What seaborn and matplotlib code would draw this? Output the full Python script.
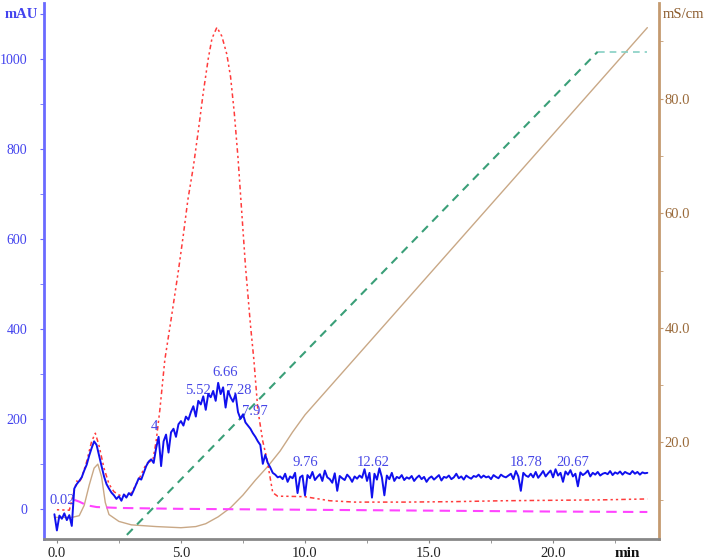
import numpy as np
import pandas as pd
import matplotlib
matplotlib.use("Agg")
import matplotlib.pyplot as plt
import seaborn as sns

# ---------------- data ----------------
uv_start, uv_step = -0.1, 0.1
uv_blue = [
    -12, -48, -15, -22, -10, -25, -14, -38, 45, 55,
    62, 70, 85, 98, 118, 135, 150, 142, 118, 95,
    72, 55, 45, 36, 30, 22, 28, 18, 32, 25,
    35, 30, 42, 55, 68, 65, 80, 95, 105, 110,
    102, 135, 160, 95, 150, 165, 125, 170, 178, 160,
    188, 195, 185, 205, 198, 215, 228, 205, 240, 232,
    250, 220, 255, 248, 262, 240, 280, 255, 270, 225,
    262, 248, 238, 255, 215, 200, 210, 192, 185, 178,
    168, 160, 150, 142, 100, 120, 102, 92, 80, 76,
    70, 72,
    66, 78, 60, 72, 68, 80, 35, 70, 74, 30,
    75, 68, 82, 64, 71, 77, 62, 85, 70, 66,
    58, 79, 40, 73, 68, 64, 76, 70, 60, 72,
    67, 74, 69, 88, 62, 80, 25, 78, 65, 90,
    70, 30, 74, 66, 80, 62, 71, 68, 75, 64,
    70, 67, 73, 62, 69, 74, 66, 71, 60, 68,
    72, 65, 70, 75, 63, 71, 69, 74, 66, 70,
    78, 68, 72, 65, 74, 70, 67, 73, 71, 76,
    69, 74, 70, 72, 66, 75, 71, 68, 76, 72,
    70, 74, 78, 66, 84, 72, 40, 80, 74, 71,
    78, 70, 82, 69, 76, 84, 72, 79, 85, 70,
    88, 74, 80, 60, 83, 76, 86, 72, 78, 50,
    81, 75, 79, 85, 72, 80, 76, 82, 74, 78,
    80, 77, 84, 75, 81, 78, 83, 76, 82, 79,
    77, 84, 78, 82, 76, 81, 79, 80,
]

red_t = [0.0, 0.5, 0.65, 0.8, 0.9, 1.0, 1.2, 1.4, 1.55, 1.7, 1.9, 2.1, 2.3, 2.6, 3.0,
         3.3, 3.6, 3.87, 4.0, 4.15, 4.35, 4.6, 4.9, 5.1, 5.28, 5.5, 5.7, 5.9, 6.1,
         6.25, 6.45, 6.65, 6.85, 7.0, 7.15, 7.3, 7.45, 7.6, 7.8, 7.94, 8.1, 8.3, 8.47,
         8.7, 8.9, 9.2, 10.0, 11.0, 12.0, 14.0, 16.0, 18.0, 20.0, 22.0, 23.8]
red_v = [-2, -3, 30, 62, 58, 70, 105, 150, 168, 140, 90, 55, 38, 28, 35,
         65, 100, 109, 150, 220, 331, 420, 530, 610, 687, 760, 840, 925, 1000,
         1045, 1070, 1050, 1010, 960, 880, 780, 660, 540, 410, 331, 220, 150, 109,
         36, 28, 28, 27, 18, 15, 15, 16, 18, 19, 20, 22]

mag_t = [0.7, 0.9, 1.2, 1.6, 2.5, 5.0, 10.0, 15.0, 20.0, 23.8]
mag_v = [20, 16, 8, 4, 2, 0, -2, -4, -6, -7]

cond_t = [-0.1, 0.6, 0.9, 1.1, 1.3, 1.5, 1.65, 1.8, 1.95, 2.1, 2.5, 3.0, 4.0, 5.0,
          5.6, 6.0, 6.5, 7.0, 7.5, 8.0, 8.5, 9.0, 9.5, 10.0, 23.8]
cond_v = [6.9, 6.9, 7.2, 9.0, 12.5, 15.5, 16.2, 14.0, 9.5, 7.4, 6.2, 5.6, 5.3, 5.1,
          5.3, 5.8, 7.0, 8.6, 10.8, 13.4, 15.8, 18.5, 21.8, 24.8, 92.4]

grad_t = [2.0, 21.8]
grad_v = [0.2, 88.2]
hold_t = [21.8, 23.8]
hold_v = [88.2, 88.2]

peak_labels = ["0.02", "4", "5.52", "6.66", "7.28", "7.97", "9.76", "12.62", "18.78", "20.67"]
peak_x = [0.2, 3.91, 5.69, 6.77, 7.34, 7.98, 10.0, 12.74, 18.91, 20.8]
peak_y = [18, 182, 264, 302, 264, 216, 104, 104, 104, 104]

left_ticks = [0, 200, 400, 600, 800, 1000]
right_ticks = [20, 40, 60, 80]
x_ticks = [0, 5, 10, 15, 20]

# ---------------- plot ----------------
sns.set_style("white")
plt.rcParams['font.family'] = ['Liberation Serif', 'DejaVu Serif']

fig = plt.figure(figsize=(7.08, 5.59), dpi=100)
ax = fig.add_axes([44/708, 20/559, (659-44)/708, (539-3)/559])
ax2 = ax.twinx()

blue_df = pd.DataFrame({"t": uv_start + uv_step*np.arange(len(uv_blue)), "v": uv_blue})
red_df = pd.DataFrame({"t": red_t, "v": red_v})
mag_df = pd.DataFrame({"t": mag_t, "v": mag_v})
cond_df = pd.DataFrame({"t": cond_t, "v": cond_v})
grad_df = pd.DataFrame({"t": grad_t, "v": grad_v})
hold_df = pd.DataFrame({"t": hold_t, "v": hold_v})

sns.lineplot(data=cond_df, x="t", y="v", ax=ax2, color="#c9a886", lw=1.0, zorder=1)
sns.lineplot(data=grad_df, x="t", y="v", ax=ax2, color="#3a9f78", lw=1.5,
             zorder=1).lines[-1].set_dashes([4, 3])
sns.lineplot(data=hold_df, x="t", y="v", ax=ax2, color="#86d0c4", lw=1.2,
             zorder=1).lines[-1].set_dashes([4, 3])

ax.set_zorder(ax2.get_zorder() + 1)
ax.patch.set_visible(False)

sns.lineplot(data=mag_df, x="t", y="v", ax=ax, color="#ff44ff", lw=1.5).lines[-1].set_dashes([5, 3])
sns.lineplot(data=red_df, x="t", y="v", ax=ax, color="#ff3b3b", lw=1.1).lines[-1].set_dashes([1.5, 2, 1.5, 2, 3, 2])
for lbl, px, py in zip(peak_labels, peak_x, peak_y):
    ax.text(px, py, lbl, color="#4646e6", fontsize=10.5, ha="center", va="center", zorder=2)
sns.lineplot(data=blue_df, x="t", y="v", ax=ax, color="#1010ee", lw=1.4, zorder=3)

ax.set_xlim(-0.52, 24.27)
ax.set_ylim(-67, 1124)
ax2.set_ylim(3.13, 96.7)

ax.set_xlabel("")
ax.set_ylabel("")
ax2.set_xlabel("")
ax2.set_ylabel("")

ax.set_xticks(x_ticks)
ax.set_xticklabels([f"{v:.1f}" for v in x_ticks])
ax.set_xticks(np.arange(2.5, 24, 5), minor=True)
ax.set_yticks(left_ticks + [1100])
ax.set_yticklabels([str(v) for v in left_ticks] + [""])
ax.set_yticks(np.arange(100, 1100, 200), minor=True)
ax2.set_yticks(right_ticks)
ax2.set_yticklabels([f"{v:.1f}" for v in right_ticks])
ax2.set_yticks([10, 30, 50, 70, 90], minor=True)

ax.tick_params(axis="x", which="both", direction="out", length=3, color="#888888",
               labelsize=10.5, labelcolor="#222222", pad=3, bottom=True)
ax.tick_params(axis="y", which="both", direction="out", length=3, color="#6868ff",
               labelsize=10, labelcolor="#4343ee", pad=9, left=True)
ax2.tick_params(axis="y", which="both", direction="out", length=3, color="#c49a70",
                labelsize=10.5, labelcolor="#9a6a3a", pad=1, right=True)

for a in (ax, ax2):
    a.spines["top"].set_visible(False)
ax.spines["right"].set_visible(False)
ax.spines["left"].set_color("#6a6aff")
ax.spines["left"].set_linewidth(2)
ax.spines["bottom"].set_color("#888888")
ax.spines["bottom"].set_linewidth(2)
ax2.spines["left"].set_visible(False)
ax2.spines["bottom"].set_visible(False)
ax2.spines["right"].set_color("#c49a70")
ax2.spines["right"].set_linewidth(2)

fig.text(21/708, 1 - 14/559, "mAU", color="#4343ee", fontsize=10.5,
         ha="center", va="center", fontweight="bold")
ax2.text(1.006, 0.978, "mS/cm", transform=ax.transAxes, color="#8b5a2b",
         fontsize=10.5, ha="left", va="center")
ax.text(0.948, -0.027, "min", transform=ax.transAxes, color="#111111",
        fontsize=11, ha="center", va="center", fontweight="bold")

fig.savefig("out.png", dpi=100)
